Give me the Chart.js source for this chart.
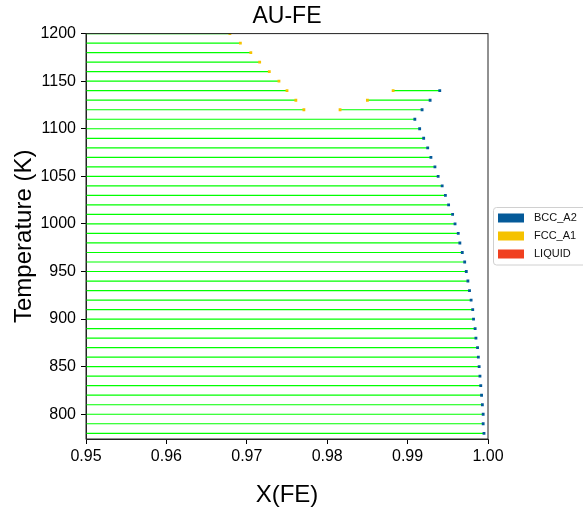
<!DOCTYPE html>
<html>
<head>
<meta charset="utf-8">
<script src="https://cdn.jsdelivr.net/npm/chart.js@4"></script>
<style>
  html, body { margin: 0; padding: 0; background: #fff; }
  #wrap { width: 583px; height: 510px; }
</style>
</head>
<body>
<div id="wrap"><canvas id="phaseChart" width="583" height="510"></canvas></div>
<script>
// tie lines ending in FCC_A1 on the right (Au-rich end is off the plotted range)
const fccTopT = [1200, 1190, 1180, 1170, 1160, 1150, 1140, 1130, 1120];
const fccTopX = [0.9679, 0.9692, 0.9705, 0.9716, 0.9728, 0.9740, 0.9750, 0.9761, 0.9771];

// FCC_A1 + BCC_A2 tie lines
const fbT = [1140, 1130, 1120];
const fbFccX = [0.9882, 0.9850, 0.9816];
const fbBccX = [0.9940, 0.9928, 0.9918];

// tie lines ending in BCC_A2 on the right
const bccT = [1110, 1100, 1090, 1080, 1070, 1060, 1050, 1040, 1030, 1020, 1010, 1000,
              990, 980, 970, 960, 950, 940, 930, 920, 910, 900, 890, 880, 870, 860,
              850, 840, 830, 820, 810, 800, 790, 780];
const bccX = [0.9909, 0.9915, 0.9920, 0.9925, 0.9929, 0.9934, 0.9938, 0.9943, 0.9947, 0.9951,
              0.9956, 0.9959, 0.9963, 0.9965, 0.9968, 0.9971, 0.9973, 0.9975, 0.9977, 0.9979,
              0.9981, 0.9982, 0.9984, 0.9985, 0.9987, 0.9988, 0.9989, 0.9990, 0.9991, 0.9992,
              0.9993, 0.9994, 0.9994, 0.9995];

// left ends of the long tie lines lie beyond the x range
const offLeftX = 0.90;

const xTicks = [0.95, 0.96, 0.97, 0.98, 0.99, 1.00];
const yTicks = [800, 850, 900, 950, 1000, 1050, 1100, 1150, 1200];

const phases = ['BCC_A2', 'FCC_A1', 'LIQUID'];
const phaseColors = ['#045a99', '#f5c200', '#f04020'];

const FONT = "'Liberation Sans', Arial, sans-serif";

// build line segments, separated by gaps
const segs = [];
fccTopT.forEach((t, i) => segs.push({x: offLeftX, y: t}, {x: fccTopX[i], y: t}, {x: null, y: null}));
fbT.forEach((t, i) => segs.push({x: fbFccX[i], y: t}, {x: fbBccX[i], y: t}, {x: null, y: null}));
bccT.forEach((t, i) => segs.push({x: offLeftX, y: t}, {x: bccX[i], y: t}, {x: null, y: null}));

const bccPts = fbT.map((t, i) => ({x: fbBccX[i], y: t}))
  .concat(bccT.map((t, i) => ({x: bccX[i], y: t})));
const fccPts = fccTopT.map((t, i) => ({x: fccTopX[i], y: t}))
  .concat(fbT.map((t, i) => ({x: fbFccX[i], y: t})));

const frameAndLegend = {
  id: 'frameAndLegend',
  afterDraw(chart) {
    const {ctx, chartArea: a} = chart;
    ctx.save();
    ctx.strokeStyle = '#222';
    ctx.lineWidth = 1;
    ctx.strokeRect(a.left, a.top, a.right - a.left, a.bottom - a.top);

    // legend box
    const bx = 493.5, by = 207.5, bw = 100, bh = 57.5;
    ctx.beginPath();
    ctx.roundRect(bx, by, bw, bh, 3);
    ctx.fillStyle = '#fff';
    ctx.fill();
    ctx.strokeStyle = '#d0d0d0';
    ctx.stroke();
    ctx.font = '11px ' + FONT;
    ctx.textBaseline = 'middle';
    phases.forEach((p, i) => {
      const cy = 218 + i * 18;
      ctx.fillStyle = phaseColors[i];
      ctx.fillRect(498, cy - 4.5, 26, 9);
      ctx.fillStyle = '#111';
      ctx.fillText(p, 534, cy);
    });
    ctx.restore();
  }
};

new Chart(document.getElementById('phaseChart'), {
  type: 'scatter',
  data: {
    datasets: [
      {
        label: 'BCC_A2',
        data: bccPts,
        pointStyle: 'rect',
        pointRadius: 2,
        backgroundColor: phaseColors[0],
        borderWidth: 0,
        showLine: false
      },
      {
        label: 'FCC_A1',
        data: fccPts,
        pointStyle: 'rect',
        pointRadius: 2,
        backgroundColor: phaseColors[1],
        borderWidth: 0,
        showLine: false
      },
      {
        label: 'tie lines',
        data: segs,
        showLine: true,
        spanGaps: false,
        pointRadius: 0,
        borderColor: '#00ff00',
        borderWidth: 1.2
      }
    ]
  },
  options: {
    responsive: false,
    animation: false,
    events: [],
    layout: { padding: { left: 0, right: 95, top: 0, bottom: 0 } },
    plugins: {
      legend: { display: false },
      tooltip: { enabled: false },
      title: {
        display: true,
        text: 'AU-FE',
        fullSize: false,
        color: '#000',
        font: { family: FONT, size: 23, weight: 'normal' },
        padding: { top: 3, bottom: 3 }
      }
    },
    scales: {
      x: {
        type: 'linear',
        min: 0.95,
        max: 1.0,
        afterFit: s => { s.height = 71; },
        afterBuildTicks: s => { s.ticks = xTicks.map(v => ({value: v})); },
        grid: { drawOnChartArea: false, drawTicks: true, tickLength: 5, color: '#000' },
        border: { display: true, color: '#222' },
        ticks: {
          color: '#000',
          padding: 3,
          maxRotation: 0,
          font: { family: FONT, size: 16 },
          callback: v => v.toFixed(2)
        },
        title: {
          display: true,
          text: 'X(FE)',
          color: '#000',
          font: { family: FONT, size: 24 },
          padding: { top: 0, bottom: 0 }
        }
      },
      y: {
        type: 'linear',
        min: 774,
        max: 1200,
        afterFit: s => { s.width = 86; },
        afterBuildTicks: s => { s.ticks = yTicks.map(v => ({value: v})); },
        grid: { drawOnChartArea: false, drawTicks: true, tickLength: 5, color: '#000' },
        border: { display: true, color: '#222' },
        ticks: {
          color: '#000',
          padding: 5,
          font: { family: FONT, size: 16 },
          callback: v => String(v)
        },
        title: {
          display: true,
          text: 'Temperature (K)',
          color: '#000',
          font: { family: FONT, size: 24 },
          padding: { top: 10, bottom: 0 }
        }
      }
    }
  },
  plugins: [frameAndLegend]
});
</script>
</body>
</html>
